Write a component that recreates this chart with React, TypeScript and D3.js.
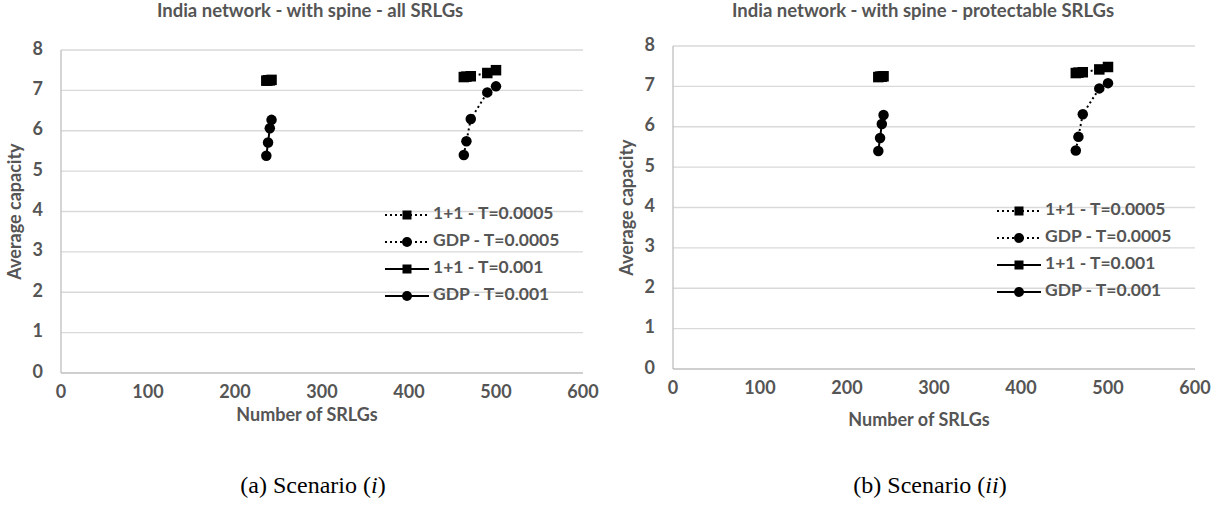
import React from "react";
import * as d3 from "d3";

// shared x values (number of SRLGs) for each threshold
const srlgT0005 = [463, 466, 471, 490, 500];
const srlgT001 = [236, 238, 240, 242];

// scenario (i) - all SRLGs
const plusT0005A = [7.33, 7.34, 7.35, 7.43, 7.5];
const gdpT0005A = [5.4, 5.74, 6.29, 6.95, 7.1];
const plusT001A = [7.24, 7.25, 7.25, 7.26];
const gdpT001A = [5.38, 5.71, 6.06, 6.27];

// scenario (ii) - protectable SRLGs
const plusT0005B = [7.33, 7.34, 7.35, 7.42, 7.48];
const gdpT0005B = [5.41, 5.75, 6.31, 6.95, 7.08];
const plusT001B = [7.23, 7.24, 7.24, 7.25];
const gdpT001B = [5.4, 5.72, 6.07, 6.29];

const seriesNames = ["1+1 - T=0.0005", "GDP - T=0.0005", "1+1 - T=0.001", "GDP - T=0.001"];
const xTicks = [0, 100, 200, 300, 400, 500, 600];
const yTicks = [0, 1, 2, 3, 4, 5, 6, 7, 8];

const FONT = "Lato, 'Open Sans', sans-serif";
const GREY = "#555555";

type Series = { name: string; xs: number[]; ys: number[]; dotted: boolean; marker: "square" | "circle" };

const Marker = ({ kind, x, y, s }: { kind: string; x: number; y: number; s: number }) =>
  kind === "square" ? (
    <rect x={x - s / 2} y={y - s / 2} width={s} height={s} fill="#000" />
  ) : (
    <circle cx={x} cy={y} r={s / 2} fill="#000" />
  );

const Chart = ({ ox, oy, title, titleX, titleY, xTitleY, series }: any) => {
  const w = 522;
  const h = 323;
  const x = d3.scaleLinear().domain([0, 600]).range([ox, ox + w]);
  const y = d3.scaleLinear().domain([0, 8]).range([oy + h, oy]);
  const line = d3.line<[number, number]>().x(d => x(d[0])).y(d => y(d[1]));

  return (
    <g fontFamily={FONT} fontWeight="bold" fill={GREY}>
      <text x={titleX} y={titleY} textAnchor="middle" fontSize={18.5} dominantBaseline="middle">{title}</text>
      {yTicks.map(t => (
        <line key={t} x1={ox} x2={ox + w} y1={y(t)} y2={y(t)} stroke={t === 0 ? "#bfbfbf" : "#d9d9d9"} strokeWidth={1.3} />
      ))}
      <line x1={ox} x2={ox} y1={oy} y2={oy + h} stroke="#bfbfbf" strokeWidth={1.3} />
      {yTicks.map(t => (
        <text key={t} x={ox - 18} y={y(t)} textAnchor="end" dominantBaseline="middle" fontSize={18}>{t}</text>
      ))}
      {xTicks.map(t => (
        <text key={t} x={x(t)} y={oy + h + 20} textAnchor="middle" dominantBaseline="middle" fontSize={18}>{t}</text>
      ))}
      <text x={ox + w / 2 - 15} y={xTitleY} textAnchor="middle" dominantBaseline="middle" fontSize={18}>Number of SRLGs</text>
      <text transform={`translate(${ox - 45},${oy + h / 2}) rotate(-90)`} textAnchor="middle" dominantBaseline="middle" fontSize={18}>Average capacity</text>

      {series.map((s: Series) => (
        <g key={s.name}>
          <path
            d={line(s.xs.map((v, i) => [v, s.ys[i]]) as [number, number][]) || ""}
            fill="none"
            stroke="#000"
            strokeWidth={2}
            strokeDasharray={s.dotted ? "2,3" : undefined}
          />
          {s.xs.map((v, i) => (
            <Marker key={i} kind={s.marker} x={x(v)} y={y(s.ys[i])} s={10.5} />
          ))}
        </g>
      ))}

      {series.map((s: Series, i: number) => {
        const ly = oy + 165 + i * 27;
        const lx = ox + 324;
        return (
          <g key={s.name}>
            <line x1={lx} x2={lx + 44} y1={ly} y2={ly} stroke="#000" strokeWidth={2} strokeDasharray={s.dotted ? "2,3" : undefined} />
            <Marker kind={s.marker} x={lx + 22} y={ly} s={s.marker === "square" ? 9 : 10} />
            <text x={lx + 48} y={ly} dominantBaseline="middle" fontSize={17.5}>{s.name}</text>
          </g>
        );
      })}
    </g>
  );
};

const makeSeries = (p5: number[], g5: number[], p1: number[], g1: number[]): Series[] => [
  { name: seriesNames[0], xs: srlgT0005, ys: p5, dotted: true, marker: "square" },
  { name: seriesNames[1], xs: srlgT0005, ys: g5, dotted: true, marker: "circle" },
  { name: seriesNames[2], xs: srlgT001, ys: p1, dotted: false, marker: "square" },
  { name: seriesNames[3], xs: srlgT001, ys: g1, dotted: false, marker: "circle" },
];

export default function App() {
  return (
    <svg width={1222} height={505} style={{ position: "absolute", left: 0, top: 0, background: "#fff" }}>
      <Chart
        ox={61} oy={50} title="India network - with spine - all SRLGs" titleX={310} titleY={12} xTitleY={416}
        series={makeSeries(plusT0005A, gdpT0005A, plusT001A, gdpT001A)}
      />
      <Chart
        ox={673} oy={46} title="India network - with spine - protectable SRLGs" titleX={923} titleY={12} xTitleY={421}
        series={makeSeries(plusT0005B, gdpT0005B, plusT001B, gdpT001B)}
      />
      <g fontFamily="'Liberation Serif', serif" fontSize={24} fill="#000">
        <text x={313} y={487} textAnchor="middle" dominantBaseline="middle">
          (a) Scenario (<tspan fontStyle="italic">i</tspan>)
        </text>
        <text x={930} y={487} textAnchor="middle" dominantBaseline="middle">
          (b) Scenario (<tspan fontStyle="italic">ii</tspan>)
        </text>
      </g>
    </svg>
  );
}
